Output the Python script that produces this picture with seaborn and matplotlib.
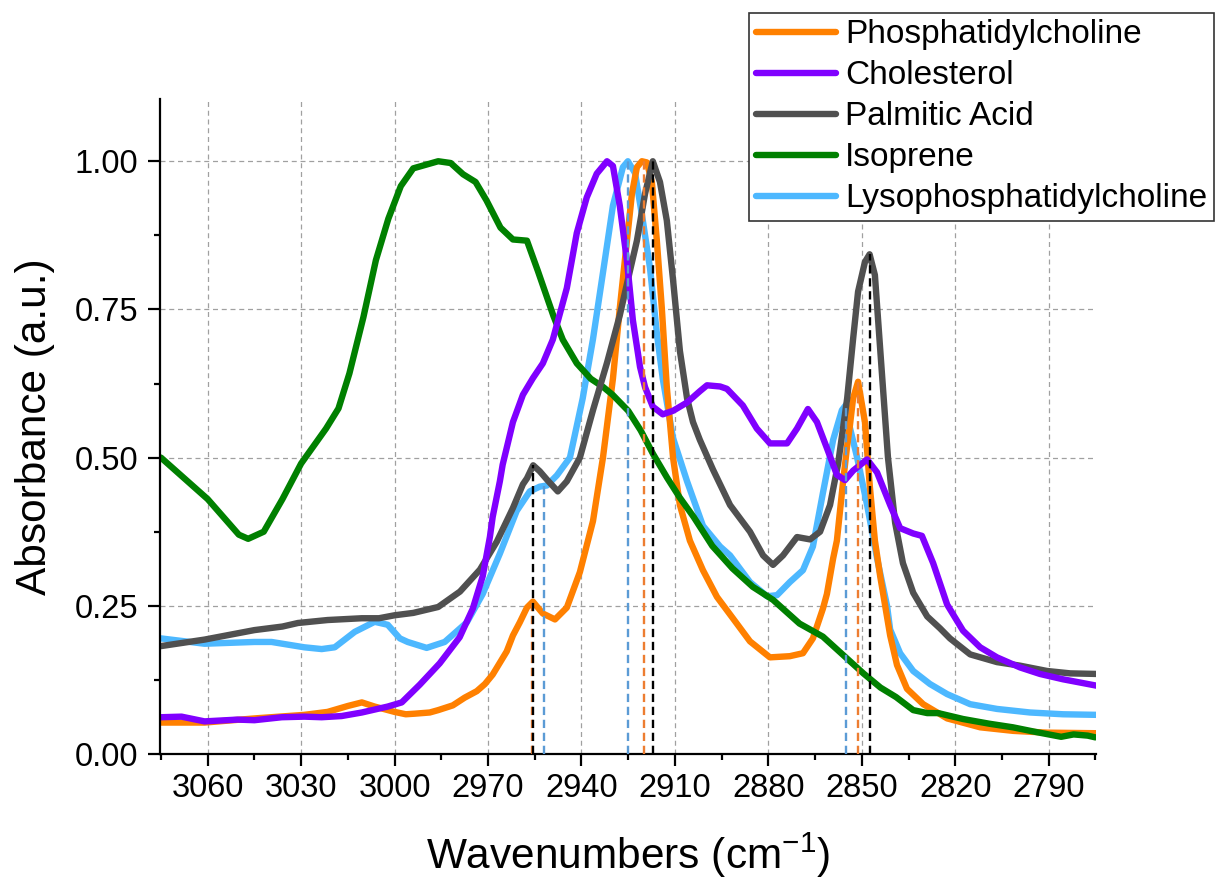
import numpy as np
import pandas as pd
import matplotlib
matplotlib.use("Agg")
import matplotlib.pyplot as plt
import seaborn as sns

sns.set_style("ticks")
plt.rcParams['font.family'] = ['Liberation Sans', 'DejaVu Sans']
plt.rcParams['mathtext.default'] = 'regular'
for key in ['text.color', 'axes.labelcolor', 'xtick.color', 'ytick.color']:
    plt.rcParams[key] = 'black'

# ---- data (wavenumber cm-1, normalised absorbance) ----
pc_wn = [3075, 3061, 3045, 3029, 3021.5, 3015, 3010.5, 3006.4, 3000, 2996.4, 2993.5, 2988.7,
         2986, 2981.3, 2977.5, 2973.6, 2971, 2968.5, 2964, 2962, 2959.8, 2957.5, 2955.6, 2952.4,
         2948.5, 2944.7, 2940.5, 2936.3, 2933.1, 2929.9, 2927.7, 2925.4, 2923.8, 2922.2, 2920.6,
         2919, 2917.4, 2915.8, 2914.2, 2912.6, 2910.6, 2908.4, 2905.2, 2901, 2896.5, 2891.4,
         2885.9, 2879.5, 2873.1, 2868.9, 2865.7, 2862.5, 2861.2, 2859.2, 2858, 2856, 2854.7,
         2853.8, 2852.8, 2851.2, 2849, 2847.4, 2845.8, 2844.1, 2842.5, 2840.9, 2838.7, 2835.5,
         2830.3, 2822.6, 2812, 2801.4, 2790.5, 2774.4]
pc_abs = [0.053, 0.053, 0.060, 0.066, 0.071, 0.081, 0.087, 0.080, 0.071, 0.067, 0.068, 0.070,
          0.074, 0.082, 0.095, 0.106, 0.118, 0.134, 0.173, 0.200, 0.222, 0.247, 0.257, 0.237,
          0.227, 0.247, 0.307, 0.393, 0.50, 0.633, 0.752, 0.866, 0.945, 0.99, 1.0,
          0.998, 0.965, 0.866, 0.752, 0.619, 0.50, 0.42, 0.36, 0.31, 0.265, 0.229,
          0.190, 0.163, 0.165, 0.170, 0.195, 0.245, 0.27, 0.33, 0.36, 0.46, 0.52,
          0.555, 0.60, 0.628, 0.56, 0.45, 0.36, 0.30, 0.25, 0.20, 0.15, 0.11,
          0.084, 0.06, 0.045, 0.039, 0.036, 0.035]

chol_wn = [3075, 3068.4, 3061, 3050.4, 3045, 3036.2, 3029, 3023.4, 3017, 3010.5, 3002.2, 2997.7,
           2991.9, 2985.5, 2979.1, 2974.9, 2971.7, 2969.4, 2968.5, 2966.2, 2965.3, 2962, 2958.8,
           2955.6, 2952.4, 2949.2, 2944.7, 2941.5, 2938.3, 2935.1, 2931.8, 2929.9, 2927.7,
           2925.4, 2923.5, 2921.2, 2919.6, 2917.1, 2913.9, 2910.6, 2906.1, 2902, 2899.7, 2895.5,
           2893.3, 2888.2, 2883.7, 2879.5, 2874, 2870.8, 2867.3, 2864.4, 2861.2, 2858, 2855.4,
           2852.8, 2848.3, 2845.1, 2840.9, 2837.7, 2833.5, 2830.7, 2827.1, 2822.6, 2817.5, 2812,
           2806.6, 2799.2, 2792.8, 2785.4, 2774.4]
chol_abs = [0.062, 0.063, 0.055, 0.058, 0.057, 0.062, 0.063, 0.062, 0.064, 0.070, 0.080, 0.087,
            0.117, 0.153, 0.197, 0.245, 0.30, 0.366, 0.40, 0.46, 0.488, 0.56, 0.606,
            0.634, 0.659, 0.699, 0.786, 0.879, 0.939, 0.979, 1.0, 0.992, 0.925,
            0.832, 0.732, 0.653, 0.619, 0.586, 0.573, 0.579, 0.593, 0.612, 0.622, 0.620,
            0.616, 0.588, 0.549, 0.524, 0.524, 0.549, 0.582, 0.56, 0.516, 0.471, 0.462,
            0.478, 0.497, 0.475, 0.42, 0.381, 0.372, 0.368, 0.322, 0.252, 0.208, 0.18,
            0.163, 0.146, 0.135, 0.126, 0.115]

pa_wn = [3075, 3061, 3045, 3036, 3031, 3021.5, 3010.5, 3005, 3000, 2994, 2986, 2979, 2972.6,
         2967.2, 2962, 2958.8, 2957.5, 2955.5, 2953.4, 2951.1, 2947.6, 2944.7, 2940.5, 2936.3,
         2931.8, 2927.7, 2925.1, 2922.2, 2919.6, 2917.1, 2914.8, 2912.6, 2910.6, 2908.4, 2906.1,
         2904.2, 2902, 2897.8, 2892.3, 2885.9, 2881.7, 2878.5, 2875.3, 2870.8, 2866.6, 2863.4,
         2860.2, 2857.6, 2854.7, 2852.8, 2851.2, 2849, 2847.5, 2845.8, 2843.5, 2841.6, 2839.3,
         2836.8, 2833.5, 2829, 2824.9, 2821.7, 2815.2, 2806.6, 2799.2, 2790.5, 2783.1, 2774.4]
pa_abs = [0.182, 0.193, 0.209, 0.215, 0.221, 0.226, 0.229, 0.229, 0.234, 0.238, 0.248, 0.274, 0.311,
          0.358, 0.415, 0.455, 0.465, 0.487, 0.477, 0.463, 0.443, 0.46, 0.50, 0.58,
          0.66, 0.74, 0.80, 0.866, 0.945, 1.0, 0.965, 0.90, 0.80, 0.68, 0.60,
          0.56, 0.53, 0.48, 0.42, 0.375, 0.335, 0.319, 0.335, 0.366, 0.362, 0.375,
          0.42, 0.49, 0.60, 0.70, 0.78, 0.83, 0.843, 0.808, 0.639, 0.50, 0.39,
          0.322, 0.272, 0.232, 0.212, 0.195, 0.168, 0.155, 0.149, 0.140, 0.136, 0.135]

iso_wn = [3075, 3060, 3050, 3047, 3042, 3036, 3030, 3022, 3018, 3014.5, 3010, 3006, 3002, 2998,
          2994, 2986, 2982, 2978, 2974, 2970.5, 2966, 2962, 2957.5, 2954, 2949, 2946, 2941.5,
          2937, 2933, 2930, 2925, 2921, 2917, 2912.5, 2908.5, 2904, 2898, 2891.5, 2885, 2878.5,
          2870, 2862.5, 2856, 2849.5, 2844, 2839, 2833.5, 2829, 2825.5, 2817.5, 2809, 2801.5,
          2794, 2786, 2782, 2777.5, 2775]
iso_abs = [0.50, 0.43, 0.37, 0.363, 0.375, 0.43, 0.49, 0.549, 0.583, 0.642, 0.737, 0.833, 0.903, 0.958,
           0.988, 1.0, 0.997, 0.978, 0.965, 0.934, 0.888, 0.868, 0.866, 0.815, 0.739, 0.699, 0.659,
           0.633, 0.619, 0.606, 0.579, 0.546, 0.506, 0.466, 0.433, 0.400, 0.351, 0.313, 0.282, 0.260,
           0.220, 0.198, 0.167, 0.136, 0.112, 0.096, 0.074, 0.069, 0.069, 0.059, 0.051, 0.045,
           0.037, 0.029, 0.033, 0.031, 0.028]

lpc_wn = [3075, 3061, 3045, 3039.5, 3029, 3023.4, 3019.2, 3012.8, 3006.4, 3002.2, 2998.3, 2995.8,
          2989.7, 2983.9, 2976.8, 2971.7, 2966.2, 2960.8, 2956.6, 2953.4, 2951.1, 2947.9, 2943.7,
          2939.6, 2936.3, 2933.1, 2929.9, 2926.7, 2925.1, 2922.8, 2920.3, 2918, 2915.8, 2913.9,
          2910.6, 2906.1, 2901, 2895.5, 2892.3, 2885.9, 2880.4, 2877.2, 2873.1, 2868.9, 2865.7,
          2862.5, 2859.2, 2856.4, 2855.1, 2853.8, 2851.5, 2849.9, 2848.3, 2845.1, 2841.9, 2840.9,
          2837.7, 2833.5, 2828.1, 2822.6, 2815.2, 2806.6, 2796, 2785.4, 2774.4]
lpc_abs = [0.195, 0.186, 0.189, 0.189, 0.180, 0.177, 0.180, 0.206, 0.223, 0.218, 0.195, 0.189,
           0.179, 0.189, 0.222, 0.270, 0.338, 0.410, 0.443, 0.451, 0.453, 0.47, 0.50,
           0.60, 0.70, 0.812, 0.925, 0.99, 1.0, 0.98, 0.90, 0.82, 0.71, 0.633,
           0.533, 0.46, 0.385, 0.35, 0.335, 0.29, 0.266, 0.268, 0.29, 0.31, 0.35,
           0.44, 0.53, 0.58, 0.589, 0.55, 0.50, 0.46, 0.42, 0.33, 0.25, 0.21,
           0.17, 0.14, 0.118, 0.101, 0.084, 0.076, 0.070, 0.067, 0.066]

# peak markers (dashed drop lines)
pa_peak_wn = [2955.5, 2917.1, 2847.5]
pa_peak_abs = [0.487, 1.0, 0.843]
pc_peak_wn = [2956.0, 2919.9, 2851.2]
pc_peak_abs = [0.257, 1.0, 0.628]
lpc_peak_wn = [2952.0, 2925.0, 2855.2]
lpc_peak_abs = [0.453, 1.0, 0.589]

series = {
    'Phosphatidylcholine': (pc_wn, pc_abs, '#FF8000'),
    'Cholesterol': (chol_wn, chol_abs, '#8000FF'),
    'Palmitic Acid': (pa_wn, pa_abs, '#505050'),
    'Isoprene': (iso_wn, iso_abs, '#008000'),
    'Lysophosphatidylcholine': (lpc_wn, lpc_abs, '#4DB8FF'),
}
legend_order = list(series.keys())
draw_order = ['Lysophosphatidylcholine', 'Phosphatidylcholine', 'Isoprene',
              'Palmitic Acid', 'Cholesterol']

fig = plt.figure(figsize=(12.15, 8.8), dpi=100)
ax = fig.add_axes([0.1317, 0.1432, 0.7704, 0.7443])

handles = {}
for name in draw_order:
    wn, ab, col = series[name]
    df = pd.DataFrame({'wn': wn, 'abs': ab})
    sns.lineplot(data=df, x='wn', y='abs', ax=ax, color=col, lw=4.6, sort=False,
                 label=name, solid_capstyle='round', solid_joinstyle='round')
    handles[name] = ax.get_lines()[-1]
if ax.get_legend() is not None:
    ax.get_legend().remove()

dash = (0, (3.5, 2))
ax.vlines(pc_peak_wn, 0, pc_peak_abs, colors='#ED7D31', linestyles=dash, lw=1.7, zorder=5)
ax.vlines(lpc_peak_wn, 0, lpc_peak_abs, colors='#5B9BD5', linestyles=dash, lw=1.7, zorder=5)
ax.vlines(pa_peak_wn, 0, pa_peak_abs, colors='black', linestyles=dash, lw=1.7, zorder=6)

ax.set_xlim(3075.3, 2774.8)
ax.set_ylim(0, 1.105)
ax.set_xticks(np.arange(3060, 2780, -30))
ax.set_xticks(np.arange(3075, 2770, -15), minor=True)
ax.set_yticks([0, 0.25, 0.5, 0.75, 1.0])
ax.set_yticks([0.125, 0.375, 0.625, 0.875], minor=True)
ax.set_yticklabels(['0.00', '0.25', '0.50', '0.75', '1.00'])

ax.grid(True, which='major', color='#A0A0A0', linestyle=(0, (4, 3)), lw=0.9)
ax.set_axisbelow(True)
for side in ['top', 'right']:
    ax.spines[side].set_visible(False)
for side in ['left', 'bottom']:
    ax.spines[side].set_linewidth(1.6)
    ax.spines[side].set_color('black')

ax.tick_params(axis='both', which='major', direction='out', length=8.5, width=1.6,
               labelsize=23.5, color='black', labelcolor='black')
ax.tick_params(axis='both', which='minor', direction='out', length=4.5, width=1.6, color='black')
ax.tick_params(axis='x', which='major', pad=5)
ax.tick_params(axis='y', which='major', pad=7)

ax.set_xlabel('Wavenumbers (cm$^{-1}$)', fontsize=30.5, labelpad=19)
ax.set_ylabel('Absorbance (a.u.)', fontsize=30.5, labelpad=14)

leg = fig.legend([handles[n] for n in legend_order], legend_order,
                 loc='upper right', bbox_to_anchor=(0.999, 0.9856),
                 fontsize=24, handlelength=2.4, handletextpad=0.27,
                 labelspacing=0.3, borderpad=0.2, borderaxespad=0,
                 frameon=True, fancybox=False, framealpha=1)
leg.get_frame().set_edgecolor('#333333')
leg.get_frame().set_linewidth(1.2)

fig.savefig('out.png', dpi=100)
